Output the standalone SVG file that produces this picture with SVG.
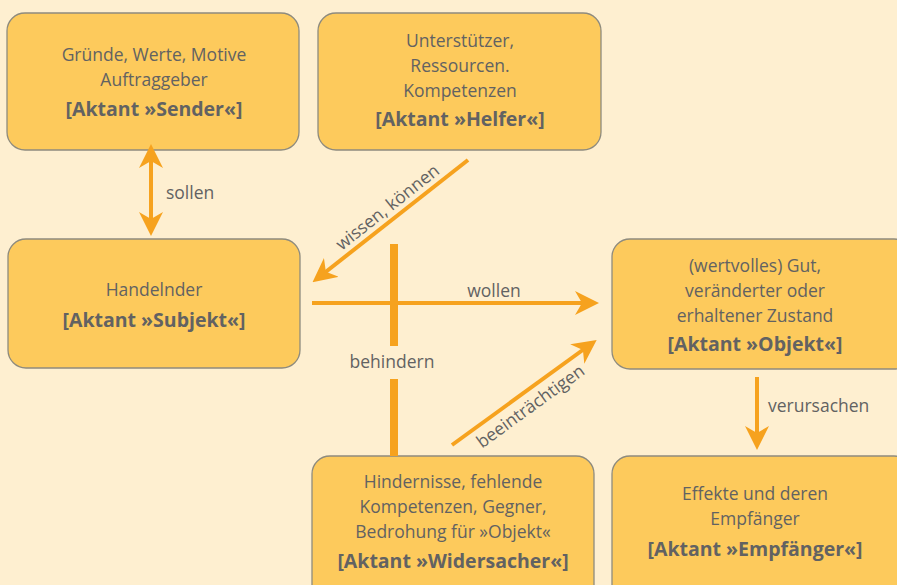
<svg xmlns="http://www.w3.org/2000/svg" width="897" height="585" viewBox="0 0 897 585">
<defs>
<style>
.box{fill:#FDCA5C;stroke:#8E8B7E;stroke-width:1.3}
.t{font-family:"Open Sans","Noto Sans",sans-serif;font-size:17.5px;fill:#626262;text-anchor:middle}
.b{font-family:"Open Sans","Noto Sans",sans-serif;font-size:19.5px;font-weight:bold;fill:#626262;text-anchor:middle}
.l{font-family:"Open Sans","Noto Sans",sans-serif;font-size:17.5px;fill:#626262}
.c{stroke:#F6A21E;stroke-width:4;fill:none}
.h{fill:#F6A21E}
</style>
<marker id="ah" viewBox="0 0 24 24" refX="17" refY="12" markerWidth="24" markerHeight="24" markerUnits="userSpaceOnUse" orient="auto">
<path d="M0,0 L24,12 L0,24 L7,12 z" class="h"/>
</marker>
<marker id="ahs" viewBox="0 0 24 24" refX="7" refY="12" markerWidth="24" markerHeight="24" markerUnits="userSpaceOnUse" orient="auto-start-reverse">
<path d="M0,0 L24,12 L0,24 L7,12 z" class="h"/>
</marker>
</defs>
<rect width="897" height="585" fill="#FEEFD0"/>

<g id="sender">
<rect class="box" x="7" y="13" width="292" height="137" rx="18"/>
<text class="t" x="154" y="61">Gründe, Werte, Motive</text>
<text class="t" x="154" y="86">Auftraggeber</text>
<text class="b" x="154" y="116">[Aktant »Sender«]</text>
</g>

<g id="helfer">
<rect class="box" x="318" y="13" width="283" height="137" rx="18"/>
<text class="t" x="460" y="47">Unterstützer,</text>
<text class="t" x="460" y="72">Ressourcen.</text>
<text class="t" x="460" y="97">Kompetenzen</text>
<text class="b" x="460" y="126">[Aktant »Helfer«]</text>
</g>

<g id="subjekt">
<rect class="box" x="8" y="239" width="292" height="129" rx="18"/>
<text class="t" x="154" y="296">Handelnder</text>
<text class="b" x="154" y="327">[Aktant »Subjekt«]</text>
</g>

<g id="objekt">
<rect class="box" x="612" y="239" width="300" height="130" rx="18"/>
<text class="t" x="755" y="272">(wertvolles) Gut,</text>
<text class="t" x="755" y="297">veränderter oder</text>
<text class="t" x="755" y="322">erhaltener Zustand</text>
<text class="b" x="755" y="351">[Aktant »Objekt«]</text>
</g>

<g id="widersacher">
<rect class="box" x="312" y="456" width="282" height="150" rx="18"/>
<text class="t" x="453" y="488">Hindernisse, fehlende</text>
<text class="t" x="453" y="513">Kompetenzen, Gegner,</text>
<text class="t" x="453" y="538">Bedrohung für »Objekt«</text>
<text class="b" x="453" y="568">[Aktant »Widersacher«]</text>
</g>

<g id="empfaenger">
<rect class="box" x="612" y="456" width="300" height="150" rx="18"/>
<text class="t" x="755" y="500">Effekte und deren</text>
<text class="t" x="755" y="525">Empfänger</text>
<text class="b" x="755" y="556">[Aktant »Empfänger«]</text>
</g>

<g id="connectors">
<line class="c" x1="151" y1="161" x2="151" y2="229" marker-start="url(#ahs)" marker-end="url(#ah)"/>
<text class="l" x="166" y="199">sollen</text>

<line class="c" x1="468" y1="160" x2="318" y2="278" marker-end="url(#ah)"/>
<text class="l" text-anchor="middle" transform="translate(388,208) rotate(-38.3)" x="0" y="5">wissen, können</text>

<line class="c" x1="312" y1="303" x2="592" y2="303" marker-end="url(#ah)"/>
<text class="l" x="494" y="297" text-anchor="middle">wollen</text>

<line class="c" x1="394" y1="244" x2="394" y2="346" style="stroke-width:8"/>
<line class="c" x1="394" y1="379" x2="394" y2="456" style="stroke-width:8"/>
<text class="l" x="392" y="368" text-anchor="middle">behindern</text>

<line class="c" x1="452" y1="445" x2="591" y2="344" marker-end="url(#ah)"/>
<text class="l" text-anchor="middle" transform="translate(531,407) rotate(-35.9)" x="0" y="5">beeinträchtigen</text>

<line class="c" x1="757" y1="377" x2="757" y2="443" marker-end="url(#ah)"/>
<text class="l" x="768" y="412">verursachen</text>
</g>
</svg>
